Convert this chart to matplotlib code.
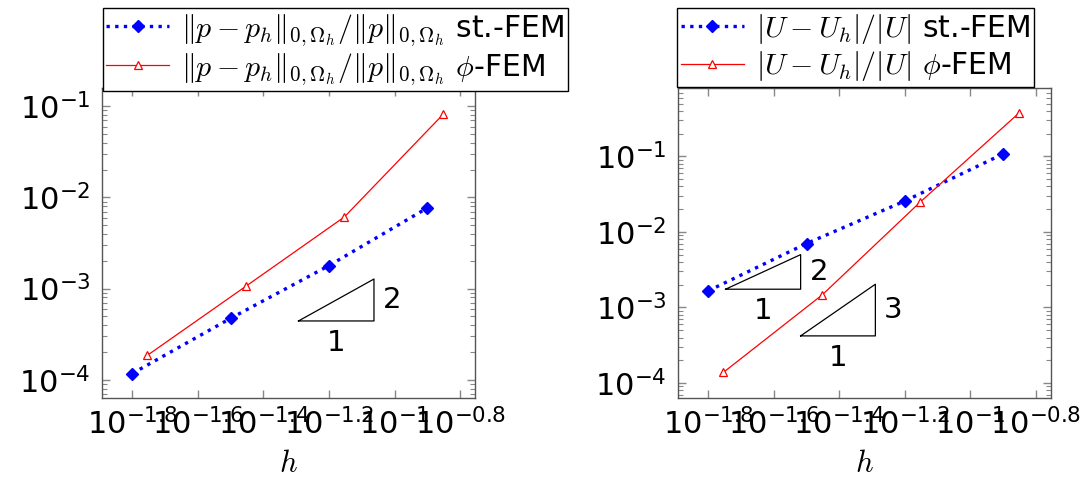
import numpy as np
import matplotlib
matplotlib.use('Agg')
import matplotlib.pyplot as plt
from matplotlib.ticker import FixedLocator, NullLocator, LogLocator, NullFormatter

# mesh sizes (log10 of h)
log_h_std = [-1.8, -1.5, -1.2, -0.9]
log_h_phi = [-1.754, -1.452, -1.153, -0.852]

# left panel: relative L2 error of p
p_err_std = [1.17e-4, 4.72e-4, 1.79e-3, 7.69e-3]
p_err_phi = [1.85e-4, 1.07e-3, 6.12e-3, 8.17e-2]

# right panel: relative error of U
u_err_std = [1.66e-3, 7.03e-3, 2.57e-2, 1.08e-1]
u_err_phi = [1.38e-4, 1.47e-3, 2.49e-2, 0.375]

# slope triangles: (log10 h start, log10 h end, log10 err at base, slope)
tri_left = [(-1.293, -1.063, -3.355, 2)]
tri_right = [(-1.747, -1.518, -2.758, 2), (-1.518, -1.29, -3.376, 3)]

xtick_exps = [-1.8, -1.6, -1.4, -1.2, -1.0, -0.8]
xtick_labels = ['-1.8', '-1.6', '-1.4', '-1.2', '-1', '-0.8']

plt.rcParams['font.family'] = 'DejaVu Sans'
plt.rcParams['mathtext.fontset'] = 'cm'

fig = plt.figure(figsize=(10.84, 4.82), dpi=100)
ax1 = fig.add_axes([0.0938, 0.1743, 0.3444, 0.643])
ax2 = fig.add_axes([0.6252, 0.1743, 0.3441, 0.643])


def draw_panel(ax, err_std, err_phi, lab_std, lab_phi, ylim, tris, leg_x):
    h_std = 10 ** np.array(log_h_std)
    h_phi = 10 ** np.array(log_h_phi)
    ax.plot(h_std, err_std, color='blue', linestyle=(0, (1, 1.6)), linewidth=2.4,
            marker='D', markersize=6.5, label=lab_std)
    ax.plot(h_phi, err_phi, color='red', linestyle='-', linewidth=0.9,
            marker='^', markersize=6, markerfacecolor='white',
            markeredgecolor='red', markeredgewidth=0.9, label=lab_phi)
    ax.set_xscale('log')
    ax.set_yscale('log')
    ax.set_xlim(10 ** -1.893, 10 ** -0.755)
    ax.set_ylim(*ylim)

    # slope triangles
    for x0, x1, y0, s in tris:
        y1 = y0 + s * (x1 - x0)
        xs = 10 ** np.array([x0, x1, x1, x0])
        ys = 10 ** np.array([y0, y0, y1, y0])
        ax.plot(xs, ys, color='black', linewidth=0.9)
        ax.annotate('1', (10 ** ((x0 + x1) / 2), 10 ** y0),
                    xytext=(0, -16), textcoords='offset points',
                    ha='center', va='center', fontsize=21)
        ax.annotate(str(s), (10 ** x1, 10 ** ((y0 + y1) / 2)),
                    xytext=(13, 0), textcoords='offset points',
                    ha='center', va='center', fontsize=21)

    ax.xaxis.set_major_locator(FixedLocator([10 ** e for e in xtick_exps]))
    ax.xaxis.set_minor_locator(NullLocator())
    ax.set_xticklabels([r'$\mathdefault{10^{%s}}$' % t for t in xtick_labels])
    ax.yaxis.set_major_locator(LogLocator(base=10))
    ax.yaxis.set_minor_locator(LogLocator(base=10, subs=np.arange(2, 10)))
    ax.yaxis.set_minor_formatter(NullFormatter())
    ax.tick_params(which='both', direction='in', top=True, right=True,
                   color='#888888', labelsize=22)
    ax.tick_params(which='major', length=6, width=1)
    ax.tick_params(which='minor', length=3.5, width=0.8)
    ax.tick_params(axis='x', pad=7)
    ax.tick_params(axis='y', pad=8)
    for sp in ax.spines.values():
        sp.set_color('#555555')
        sp.set_linewidth(1)
    ax.set_xlabel('$h$', fontsize=22, labelpad=6)

    leg = fig.legend(handles=ax.get_lines()[:2], loc='upper left',
                     bbox_to_anchor=(leg_x, 0.983), fontsize=21.5,
                     frameon=True, fancybox=False, framealpha=1,
                     edgecolor='black', borderpad=0.12, handlelength=2.1,
                     handletextpad=0.4, labelspacing=0.12, borderaxespad=0)
    leg.get_frame().set_linewidth(1)


draw_panel(ax1, p_err_std, p_err_phi,
           r'$\|p-p_h\|_{0,\Omega_h}/\|p\|_{0,\Omega_h}$ st.-FEM',
           r'$\|p-p_h\|_{0,\Omega_h}/\|p\|_{0,\Omega_h}$ $\phi$-FEM',
           (10 ** -4.2, 10 ** -0.8), tri_left, 0.0947)
draw_panel(ax2, u_err_std, u_err_phi,
           r'$|U-U_h|/|U|$ st.-FEM',
           r'$|U-U_h|/|U|$ $\phi$-FEM',
           (10 ** -4.198, 10 ** -0.095), tri_right, 0.6248)

fig.savefig('out.png', dpi=100)
